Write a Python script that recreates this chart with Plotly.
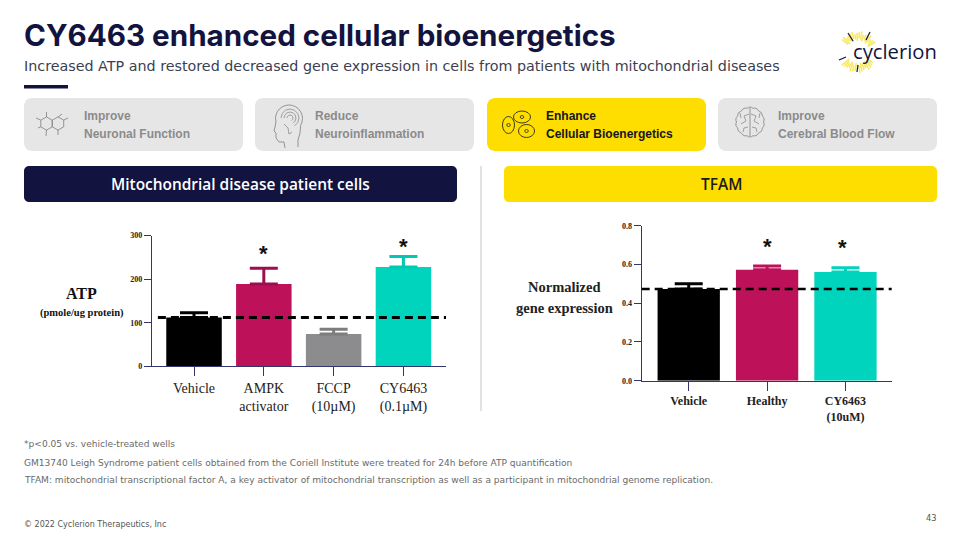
import math
import plotly.graph_objects as go

# ---------- data ----------
atp_categories = ["Vehicle", "AMPK<br>activator", "FCCP<br>(10µM)", "CY6463<br>(0.1µM)"]
atp_values = [112, 189, 74, 228]
atp_error = [11, 36, 11, 24]
atp_colors = ["#000000", "#bd1159", "#8c8c8e", "#00d4bd"]
atp_err_colors = ["#000000", "#9b0f4e", "#7d7d7f", "#00c9b3"]
atp_reference = 112
atp_ticks = [0, 100, 200, 300]
atp_star_x = [1, 3]
atp_star_y = [258, 275]

tfam_categories = ["Vehicle", "Healthy", "CY6463<br>(10uM)"]
tfam_values = [0.473, 0.573, 0.561]
tfam_error = [0.027, 0.019, 0.022]
tfam_colors = ["#000000", "#bd1159", "#00d4bd"]
tfam_err_colors = ["#000000", "#bd1159", "#00d4bd"]
tfam_reference = 0.473
tfam_ticks = [0.0, 0.2, 0.4, 0.6, 0.8]
tfam_star_x = [1, 1.96]
tfam_star_y = [0.695, 0.69]

title = "CY6463 enhanced cellular bioenergetics"
subtitle = "Increased ATP and restored decreased gene expression in cells from patients with mitochondrial diseases"
cards = [("Improve", "Neuronal Function"), ("Reduce", "Neuroinflammation"),
         ("Enhance", "Cellular Bioenergetics"), ("Improve", "Cerebral Blood Flow")]
footnotes = ["*p<0.05 vs. vehicle-treated wells",
             "GM13740 Leigh Syndrome patient cells obtained from the Coriell Institute were treated for 24h before ATP quantification",
             "TFAM: mitochondrial transcriptional factor A, a key activator of mitochondrial transcription as well as a participant in mitochondrial genome replication."]

# ---------- layout helpers ----------
W, H = 960, 540
NAVY = "#12143f"
AXIS = "#34346e"
YEL = "#fedd00"
SERIF = "Liberation Serif"
SANS = "DejaVu Sans"
shapes, annos = [], []

def px(x): return x / W
def py(y): return 1 - y / H

def P(x, y): return f"{px(x):.5f},{py(y):.5f}"

def rrect(x0, y0, x1, y1, r, fill):
    k = r * 0.45
    d = (f"M{px(x0+r):.5f},{py(y0):.5f} L{px(x1-r):.5f},{py(y0):.5f} "
         f"C{px(x1-k):.5f},{py(y0):.5f} {px(x1):.5f},{py(y0+k):.5f} {px(x1):.5f},{py(y0+r):.5f} "
         f"L{px(x1):.5f},{py(y1-r):.5f} "
         f"C{px(x1):.5f},{py(y1-k):.5f} {px(x1-k):.5f},{py(y1):.5f} {px(x1-r):.5f},{py(y1):.5f} "
         f"L{px(x0+r):.5f},{py(y1):.5f} "
         f"C{px(x0+k):.5f},{py(y1):.5f} {px(x0):.5f},{py(y1-k):.5f} {px(x0):.5f},{py(y1-r):.5f} "
         f"L{px(x0):.5f},{py(y0+r):.5f} "
         f"C{px(x0):.5f},{py(y0+k):.5f} {px(x0+k):.5f},{py(y0):.5f} {px(x0+r):.5f},{py(y0):.5f} Z")
    shapes.append(dict(type="path", path=d, xref="paper", yref="paper", fillcolor=fill,
                       line=dict(width=0), layer="below"))

def line(x0, y0, x1, y1, color, w=1.0):
    shapes.append(dict(type="line", xref="paper", yref="paper", x0=px(x0), y0=py(y0), x1=px(x1), y1=py(y1),
                       line=dict(color=color, width=w)))

def ell(cx, cy, rx, ry, color, w=1.0, fill="rgba(0,0,0,0)"):
    shapes.append(dict(type="circle", xref="paper", yref="paper", x0=px(cx-rx), x1=px(cx+rx),
                       y0=py(cy+ry), y1=py(cy-ry), fillcolor=fill, line=dict(color=color, width=w)))

def curve(points, color, w=1.0):
    d = "M" + " L".join(P(a, b) for a, b in points)
    shapes.append(dict(type="path", path=d, xref="paper", yref="paper", line=dict(color=color, width=w)))

def text(x, y, s, size, color, family=SANS, anchor="left", bold=False, weight=None):
    f = dict(size=size, color=color, family=family)
    if weight:
        f["weight"] = weight
    annos.append(dict(xref="paper", yref="paper", x=px(x), y=py(y), text=f"<b>{s}</b>" if bold else s,
                      showarrow=False, xanchor=anchor, yanchor="middle", align="center" if anchor == "center" else "left",
                      font=f, borderpad=0, borderwidth=0))

# ---------- page furniture ----------
text(24, 35, title, 29.6, NAVY, "Inter", bold=True)
text(24, 66, subtitle, 14.3, "#3c3f52", "DejaVu Sans")
shapes.append(dict(type="rect", xref="paper", yref="paper", x0=px(24), x1=px(68), y0=py(88.5), y1=py(85),
                   fillcolor=NAVY, line=dict(width=0)))

card_x = [(24, 243), (255, 474), (487, 706), (718, 937)]
for i, ((a, b), (l1, l2)) in enumerate(zip(card_x, cards)):
    active = i == 2
    rrect(a, 98, b, 151, 8, YEL if active else "#e6e6e6")
    c = "#16161c" if active else "#8b8b8b"
    text(a + 60 - (1 if i == 2 else 0), 116, l1, 12, c, "Liberation Sans", bold=True)
    text(a + 60 - (1 if i == 2 else 0), 133.5, l2, 12, c, "Liberation Sans", bold=True)

# molecule icon
G = "#7f7f7f"
for cx in (46.5, 58):
    pts = [(cx + 6.6*math.cos(math.radians(a)), 123.5 + 6.6*math.sin(math.radians(a))) for a in range(30, 391, 60)]
    curve(pts, G, 0.8)
for a, b, c, d in [(46.5, 117, 46.5, 112), (40.7, 120, 36, 118), (58, 117, 62, 114), (63.8, 120, 68, 118),
                   (46.5, 130, 46, 136), (58, 130, 58, 135), (40.7, 127, 38, 128)]:
    line(a, b, c, d, G, 0.8)

# head icon: dome, then face and neck
dome = [(289 + 13.5*math.cos(math.radians(a)), 118.5 + 13.5*math.sin(math.radians(a))) for a in range(165, 395, 15)]
curve(dome + [(300, 133), (298, 140), (298, 147)], G, 0.8)
curve([dome[0], (275, 127), (274, 131), (276, 133), (276, 138), (279, 142), (284, 142), (285, 148)], G, 0.8)
for r in (3, 6, 9):
    arc = [(290 + r*math.cos(math.radians(a)), 118 + r*math.sin(math.radians(a))) for a in range(180, 421, 30)]
    curve(arc, G, 0.7)
curve([(284, 124), (288, 128), (289, 134), (292, 132)], G, 0.7)

# cells icon
for cx, cy, rx, ry in [(522, 117, 8.5, 6), (508.5, 125, 6, 8.5), (526.5, 131, 8, 6.5)]:
    ell(cx, cy, rx, ry, "#2a2a20", 0.9)
    ell(cx, cy, 1.8, 1.5, "#2a2a20", 0.8)

# brain icon: two scalloped lobes
for sign in (-1, 1):
    lobe = []
    for a in range(-90, 91, 6):
        t = math.radians(a)
        r = 1 + 0.07 * abs(math.sin(t * 7))
        lobe.append((750 + sign * 13.5 * r * math.cos(t), 122 + 14 * r * math.sin(t)))
    curve(lobe, G, 0.8)
    curve([(750 + sign*1, 114), (750 + sign*6, 116), (750 + sign*4, 121), (750 + sign*9, 124)], G, 0.7)
    curve([(750 + sign*2, 127), (750 + sign*6, 128), (750 + sign*7, 132)], G, 0.7)
    curve([(750 + sign*10, 113), (750 + sign*9, 118)], G, 0.7)
line(750, 108, 750, 136, G, 0.8)

# logo
lc = (858, 52)
for a in range(-150, 151, 7):
    if abs(a) < 35:
        continue
    t = math.radians(a)
    r1 = 11 + (a % 3) * 1.5
    r2 = 18 + (a % 4)
    line(lc[0] - r1*math.cos(t), lc[1] + r1*math.sin(t), lc[0] - r2*math.cos(t), lc[1] + r2*math.sin(t), "#f9e75c", 1.5)
for a, b, c, d in [(848, 33, 853, 41), (870, 32, 866, 40), (839, 60, 846, 57), (857, 72, 858, 65)]:
    line(a, b, c, d, NAVY, 1.2)
text(853, 50.5, "cyclerion", 20.2, NAVY, "Open Sans")

# banners
rrect(24, 166, 457, 202, 5, NAVY)
rrect(504, 166, 937, 202, 5, YEL)
text(240, 184, "Mitochondrial disease patient cells", 15.45, "#ffffff", "Open Sans", "center", weight=600)
text(721, 184, "TFAM", 15.45, "#1a1a1a", "Open Sans", "center", weight=600)
line(481, 166, 481, 411, "#c4c4c4", 1)

# axis titles
text(81, 293, "ATP", 16, "#111111", SERIF, "center", bold=True)
text(82, 313, "(pmole/ug protein)", 10.5, "#111111", SERIF, "center", bold=True)
text(564, 287, "Normalized", 14.5, "#222222", SERIF, "center", bold=True)
text(564, 308, "gene expression", 14.5, "#222222", SERIF, "center", bold=True)

# footnotes
for y, s in zip((444, 463, 480), footnotes):
    text(24, y, s, 9.07, "#6a6a6a", "DejaVu Sans")
text(24, 524, "© 2022 Cyclerion Therapeutics, Inc", 8, "#555555", "DejaVu Sans")
text(937, 518, "43", 8.3, "#555555", "DejaVu Sans", "right")

# ---------- charts ----------
fig = go.Figure()

def add_bars(xa, ya, cats, vals, errs, cols, ecols, capw):
    for i, (c, v, e, col, ec) in enumerate(zip(cats, vals, errs, cols, ecols)):
        fig.add_trace(go.Bar(x=[i], y=[v], width=0.795, xaxis=xa, yaxis=ya, marker=dict(color=col, line=dict(width=0)),
                             error_y=dict(type="data", array=[e], arrayminus=[0], symmetric=False, color=ec,
                                          thickness=3, width=capw), showlegend=False, name=c.replace("<br>", " ")))

add_bars("x", "y", atp_categories, atp_values, atp_error, atp_colors, atp_err_colors, 14)
add_bars("x2", "y2", tfam_categories, tfam_values, tfam_error, tfam_colors, tfam_err_colors, 14)

shapes.append(dict(type="line", xref="x domain", yref="y", x0=0.02, x1=1, y0=atp_reference, y1=atp_reference,
                   line=dict(color="#000000", width=3, dash="8px,5px")))
shapes.append(dict(type="line", xref="x2 domain", yref="y2", x0=0.0, x1=1, y0=tfam_reference, y1=tfam_reference,
                   line=dict(color="#000000", width=2.6, dash="8px,5px")))

for xr, yr, xs, ys in [("x", "y", atp_star_x, atp_star_y), ("x2", "y2", tfam_star_x, tfam_star_y)]:
    for a, b in zip(xs, ys):
        annos.append(dict(xref=xr, yref=yr, x=a, y=b, text="<b>*</b>", showarrow=False, yanchor="middle",
                          font=dict(size=22, color="#111111", family="Liberation Sans")))

def xaxis(domain, rng, cats, size, anchor, weight):
    return dict(domain=domain, range=rng, tickmode="array", tickvals=list(range(len(cats))), ticktext=cats,
                ticks="outside", ticklen=9, tickwidth=1, tickcolor=AXIS, showline=True, linecolor=AXIS, linewidth=1.3,
                showgrid=False, zeroline=False, anchor=anchor, fixedrange=True,
                tickfont=dict(family=SERIF, size=size, color="#222222", weight=weight))

def yaxis(domain, rng, ticks, fmt, anchor):
    return dict(domain=domain, range=rng, tickmode="array", tickvals=ticks, tickformat=fmt,
                ticks="outside", ticklen=7, tickwidth=1, tickcolor=AXIS, showline=True, linecolor=AXIS, linewidth=1.3,
                showgrid=False, zeroline=False, anchor=anchor, fixedrange=True,
                tickfont=dict(family=SERIF, size=8, color="#222222", weight="bold"))

fig.update_layout(
    width=W, height=H, autosize=False, margin=dict(l=0, r=0, t=0, b=0, autoexpand=False),
    paper_bgcolor="#ffffff", plot_bgcolor="rgba(0,0,0,0)", barmode="overlay", showlegend=False,
    xaxis=xaxis([px(152), px(446)], [-0.602, 3.61], atp_categories, 14, "y", "normal"),
    yaxis=yaxis([py(366.3), py(235.5)], [0, 300], atp_ticks, "d", "x"),
    xaxis2=xaxis([px(641.7), px(891.7)], [-0.6, 2.59], tfam_categories, 12, "y2", "bold"),
    yaxis2=yaxis([py(380.7), py(225.7)], [0, 0.8], tfam_ticks, ".1f", "x2"),
    shapes=shapes, annotations=annos,
)

fig.write_html("out.html", config={"displayModeBar": False},
               post_script="document.body.style.margin='0';document.body.style.overflow='hidden';")
